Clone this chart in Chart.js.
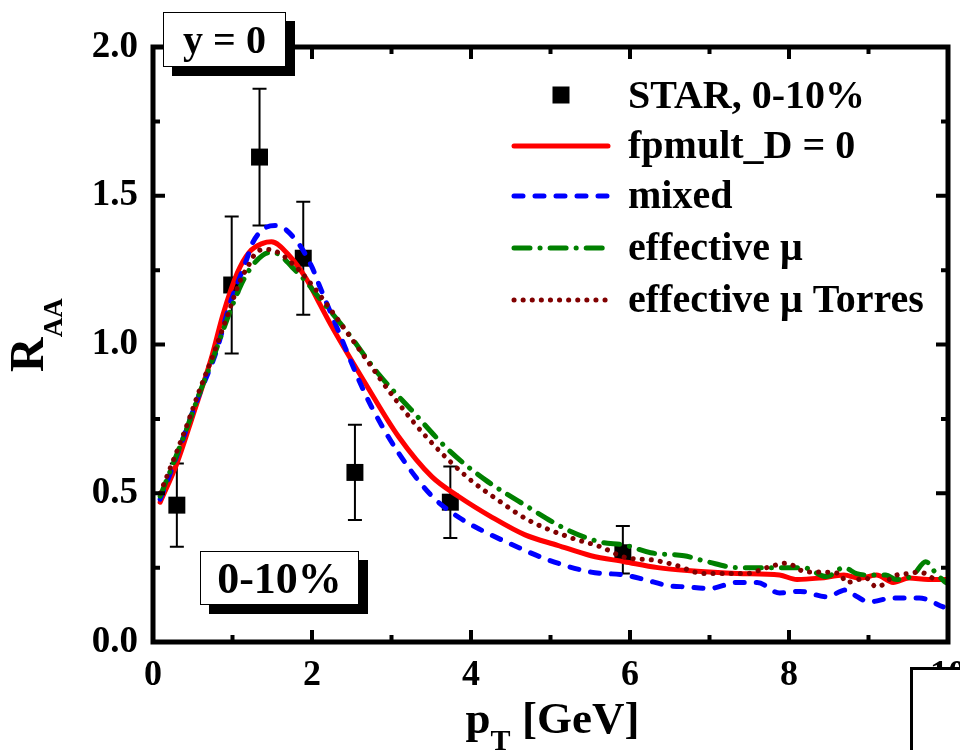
<!DOCTYPE html>
<html>
<head>
<meta charset="utf-8">
<script src="https://cdn.jsdelivr.net/npm/chart.js"></script>
<style>
  html, body { margin: 0; padding: 0; background: #fff; }
  canvas { display: block; }
</style>
</head>
<body>
<canvas id="raa" width="960" height="750"></canvas>
<script>
// STAR D0 data, 0-10%
const starPt  = [0.30, 0.99, 1.34, 1.89, 2.54, 3.74, 5.91];
const starRaa = [0.46, 1.20, 1.63, 1.29, 0.57, 0.47, 0.30];
const starHi  = [0.60, 1.43, 1.86, 1.48, 0.73, 0.59, 0.39];
const starLo  = [0.32, 0.97, 1.40, 1.10, 0.41, 0.35, 0.23];

// fpmult_D = 0
const fpX = [0.09, 0.30, 0.50, 0.74, 0.88, 1.06, 1.21, 1.38, 1.49, 1.71, 1.93, 2.09, 2.25, 2.67, 3.09, 3.51, 3.84, 4.26, 4.68, 5.09, 5.51, 5.93, 6.35, 6.72, 7.35, 7.88, 8.10, 8.39, 8.69, 8.89, 9.10, 9.31, 9.51, 9.75, 10.0];
const fpY = [0.47, 0.60, 0.76, 0.96, 1.10, 1.24, 1.31, 1.34, 1.345, 1.30, 1.22, 1.14, 1.06, 0.87, 0.69, 0.555, 0.49, 0.42, 0.36, 0.325, 0.29, 0.27, 0.25, 0.24, 0.23, 0.225, 0.21, 0.215, 0.225, 0.215, 0.225, 0.20, 0.215, 0.21, 0.21];

// mixed
const mixX = [0.09, 0.25, 0.55, 0.80, 0.96, 1.17, 1.25, 1.40, 1.55, 1.80, 2.00, 2.09, 2.34, 2.59, 2.75, 3.09, 3.51, 3.84, 4.13, 4.47, 4.97, 5.51, 5.93, 6.18, 6.47, 6.72, 7.00, 7.35, 7.60, 7.88, 8.14, 8.47, 8.72, 8.81, 9.01, 9.31, 9.64, 9.94];
const mixY = [0.48, 0.59, 0.81, 0.98, 1.13, 1.28, 1.34, 1.39, 1.40, 1.35, 1.26, 1.20, 1.04, 0.88, 0.79, 0.635, 0.49, 0.42, 0.376, 0.333, 0.276, 0.235, 0.225, 0.21, 0.19, 0.185, 0.18, 0.20, 0.20, 0.165, 0.17, 0.152, 0.175, 0.16, 0.135, 0.148, 0.148, 0.118];

// effective mu
const effX = [0.09, 0.40, 0.59, 0.75, 0.94, 1.09, 1.21, 1.38, 1.50, 1.60, 1.75, 1.93, 2.05, 2.42, 2.84, 3.25, 3.72, 4.18, 4.68, 5.22, 5.63, 5.93, 6.26, 6.68, 6.97, 7.35, 7.68, 8.01, 8.18, 8.47, 8.69, 8.85, 9.01, 9.22, 9.35, 9.56, 9.72, 9.85, 9.97];
const effY = [0.49, 0.70, 0.84, 0.95, 1.09, 1.19, 1.25, 1.30, 1.31, 1.30, 1.26, 1.21, 1.17, 1.05, 0.90, 0.78, 0.645, 0.545, 0.46, 0.376, 0.336, 0.326, 0.30, 0.29, 0.27, 0.25, 0.25, 0.25, 0.25, 0.22, 0.25, 0.23, 0.225, 0.225, 0.21, 0.225, 0.27, 0.23, 0.20];

// effective mu Torres
const torX = [0.09, 0.40, 0.59, 0.75, 0.94, 1.09, 1.21, 1.30, 1.43, 1.57, 1.80, 2.00, 2.47, 2.67, 3.05, 3.47, 3.97, 4.34, 4.72, 5.26, 5.63, 5.93, 6.30, 6.55, 6.93, 7.22, 7.47, 7.72, 7.97, 8.22, 8.39, 8.64, 8.72, 8.97, 9.10, 9.35, 9.51, 9.64, 9.89];
const torY = [0.50, 0.71, 0.85, 0.96, 1.10, 1.21, 1.27, 1.31, 1.32, 1.31, 1.26, 1.20, 1.03, 0.955, 0.815, 0.68, 0.55, 0.477, 0.41, 0.35, 0.32, 0.285, 0.275, 0.26, 0.23, 0.23, 0.23, 0.25, 0.265, 0.235, 0.235, 0.23, 0.20, 0.215, 0.185, 0.225, 0.23, 0.235, 0.20];

const seriesNames = ['STAR, 0-10%', 'fpmult_D = 0', 'mixed', 'effective \u03bc', 'effective \u03bc Torres'];
const xTicks = [0, 2, 4, 6, 8, 10];
const yTicks = [0.0, 0.5, 1.0, 1.5, 2.0];

const SERIF = "'Liberation Serif', 'Times New Roman', serif";

function pairs(xs, ys) {
    return xs.map((x, i) => ({ x: x, y: ys[i] }));
}

// round caps make the dashes and dots look like the original plot
const curveStyle = [
    { color: '#ff0000', dash: [] },
    { color: '#0000ff', dash: [9, 12] },
    { color: '#008000', dash: [16, 10, 0.1, 10] },
    { color: '#800000', dash: [0.1, 9] }
];

function lineSet(i, xs, ys) {
    return {
        label: seriesNames[i + 1],
        data: pairs(xs, ys),
        showLine: true,
        borderColor: curveStyle[i].color,
        borderDash: curveStyle[i].dash,
        borderCapStyle: 'round',
        borderWidth: 5,
        pointRadius: 0,
        cubicInterpolationMode: 'monotone',
        order: 4 - i
    };
}

// error bars, frame with inward ticks, axis titles, legend and label boxes
const decor = {
    id: 'decor',
    beforeDatasetsDraw(chart) {
        const ctx = chart.ctx;
        const xs = chart.scales.x, ys = chart.scales.y;
        ctx.save();
        ctx.strokeStyle = '#000';
        ctx.lineWidth = 2;
        starPt.forEach((p, i) => {
            const px = xs.getPixelForValue(p);
            const top = ys.getPixelForValue(starHi[i]);
            const bot = ys.getPixelForValue(starLo[i]);
            ctx.beginPath();
            ctx.moveTo(px, top); ctx.lineTo(px, bot);
            ctx.moveTo(px - 7, top); ctx.lineTo(px + 7, top);
            ctx.moveTo(px - 7, bot); ctx.lineTo(px + 7, bot);
            ctx.stroke();
        });
        ctx.restore();
    },
    afterDraw(chart) {
        const ctx = chart.ctx;
        const a = chart.chartArea;
        const xs = chart.scales.x, ys = chart.scales.y;
        ctx.save();

        // frame
        ctx.strokeStyle = '#000';
        ctx.lineWidth = 5;
        ctx.strokeRect(a.left, a.top, a.right - a.left, a.bottom - a.top);

        // inward ticks on all four sides
        ctx.lineWidth = 4;
        ctx.beginPath();
        for (let v = 1; v < 10; v++) {
            const len = v % 2 === 0 ? 12 : 7;
            const px = xs.getPixelForValue(v);
            ctx.moveTo(px, a.bottom); ctx.lineTo(px, a.bottom - len);
            ctx.moveTo(px, a.top); ctx.lineTo(px, a.top + len);
        }
        for (let v = 0.25; v < 2; v += 0.25) {
            const len = Math.abs(v * 2 - Math.round(v * 2)) < 0.01 ? 12 : 7;
            const py = ys.getPixelForValue(v);
            ctx.moveTo(a.left, py); ctx.lineTo(a.left + len, py);
            ctx.moveTo(a.right, py); ctx.lineTo(a.right - len, py);
        }
        ctx.stroke();

        // x title: p_T [GeV]
        ctx.fillStyle = '#000';
        ctx.textBaseline = 'alphabetic';
        ctx.textAlign = 'left';
        ctx.font = 'bold 45px ' + SERIF;
        const wp = ctx.measureText('p').width;
        const wg = ctx.measureText('[GeV]').width;
        ctx.font = 'bold 30px ' + SERIF;
        const wt = ctx.measureText('T ').width;
        let tx = (a.left + a.right) / 2 - (wp + wt + wg) / 2;
        ctx.font = 'bold 45px ' + SERIF;
        ctx.fillText('p', tx, 733);
        ctx.font = 'bold 30px ' + SERIF;
        ctx.fillText('T', tx + wp, 750);
        ctx.font = 'bold 45px ' + SERIF;
        ctx.fillText('[GeV]', tx + wp + wt + 4, 733);

        // y title: R_AA
        ctx.save();
        ctx.translate(43, 372);
        ctx.rotate(-Math.PI / 2);
        ctx.font = 'bold 48px ' + SERIF;
        ctx.fillText('R', 0, 0);
        const wr = ctx.measureText('R').width;
        ctx.font = 'bold 27px ' + SERIF;
        ctx.fillText('AA', wr, 19);
        ctx.restore();

        // legend
        const rowBase = [108, 158, 208, 260, 312];
        ctx.font = 'bold 40px ' + SERIF;
        seriesNames.forEach((name, i) => {
            ctx.fillText(name, 628, rowBase[i]);
        });
        ctx.fillRect(561 - 8.5, 95 - 8.5, 17, 17);
        ctx.lineWidth = 5;
        ctx.lineCap = 'round';
        curveStyle.forEach((s, i) => {
            const y = rowBase[i + 1] - 12;
            ctx.strokeStyle = s.color;
            ctx.setLineDash(s.dash);
            ctx.beginPath();
            ctx.moveTo(514, y); ctx.lineTo(608, y);
            ctx.stroke();
        });
        ctx.setLineDash([]);
        ctx.lineCap = 'butt';

        // label boxes with drop shadow
        function box(x, y, w, h, text, size) {
            ctx.fillStyle = '#000';
            ctx.fillRect(x + 9, y + 9, w, h);
            ctx.fillStyle = '#fff';
            ctx.fillRect(x, y, w, h);
            ctx.strokeStyle = '#000';
            ctx.lineWidth = 1;
            ctx.strokeRect(x + 0.5, y + 0.5, w - 1, h - 1);
            ctx.fillStyle = '#000';
            ctx.textAlign = 'center';
            ctx.font = 'bold ' + size + 'px ' + SERIF;
            ctx.fillText(text, x + w / 2, y + h / 2 + size * 0.34);
        }
        box(163, 12, 123, 55, 'y = 0', 40);
        box(200, 551, 159, 54, '0-10%', 44);

        // empty frame at the lower right corner
        ctx.fillStyle = '#fff';
        ctx.fillRect(910, 667, 60, 90);
        ctx.strokeStyle = '#000';
        ctx.lineWidth = 3;
        ctx.beginPath();
        ctx.moveTo(911.5, 760); ctx.lineTo(911.5, 668.5); ctx.lineTo(970, 668.5);
        ctx.stroke();

        ctx.restore();
    }
};

new Chart(document.getElementById('raa'), {
    type: 'scatter',
    data: {
        datasets: [
            {
                label: seriesNames[0],
                data: pairs(starPt, starRaa),
                pointStyle: 'rect',
                pointRadius: 12,
                backgroundColor: '#000',
                borderColor: '#000',
                borderWidth: 0,
                order: 10
            },
            lineSet(0, fpX, fpY),
            lineSet(1, mixX, mixY),
            lineSet(2, effX, effY),
            lineSet(3, torX, torY)
        ]
    },
    options: {
        responsive: false,
        animation: false,
        devicePixelRatio: 1,
        layout: { padding: { left: 0, top: 47, right: 8, bottom: 0 } },
        plugins: {
            legend: { display: false },
            tooltip: { enabled: false }
        },
        scales: {
            x: {
                type: 'linear',
                min: 0,
                max: 10,
                afterFit: (s) => { s.height = 108; s.paddingLeft = 0; s.paddingRight = 0; },
                afterBuildTicks: (s) => { s.ticks = xTicks.map(v => ({ value: v })); },
                grid: { display: false, drawTicks: false },
                border: { display: false },
                ticks: {
                    padding: 12,
                    color: '#000',
                    font: { family: SERIF, size: 36, weight: 'bold' },
                    callback: (v) => String(v)
                }
            },
            y: {
                min: 0,
                max: 2,
                afterFit: (s) => { s.width = 153; s.paddingTop = 0; s.paddingBottom = 0; },
                afterBuildTicks: (s) => { s.ticks = yTicks.map(v => ({ value: v })); },
                grid: { display: false, drawTicks: false },
                border: { display: false },
                ticks: {
                    padding: 15,
                    color: '#000',
                    font: { family: SERIF, size: 37, weight: 'bold' },
                    callback: (v) => Number(v).toFixed(1)
                }
            }
        }
    },
    plugins: [decor]
});
</script>
</body>
</html>
